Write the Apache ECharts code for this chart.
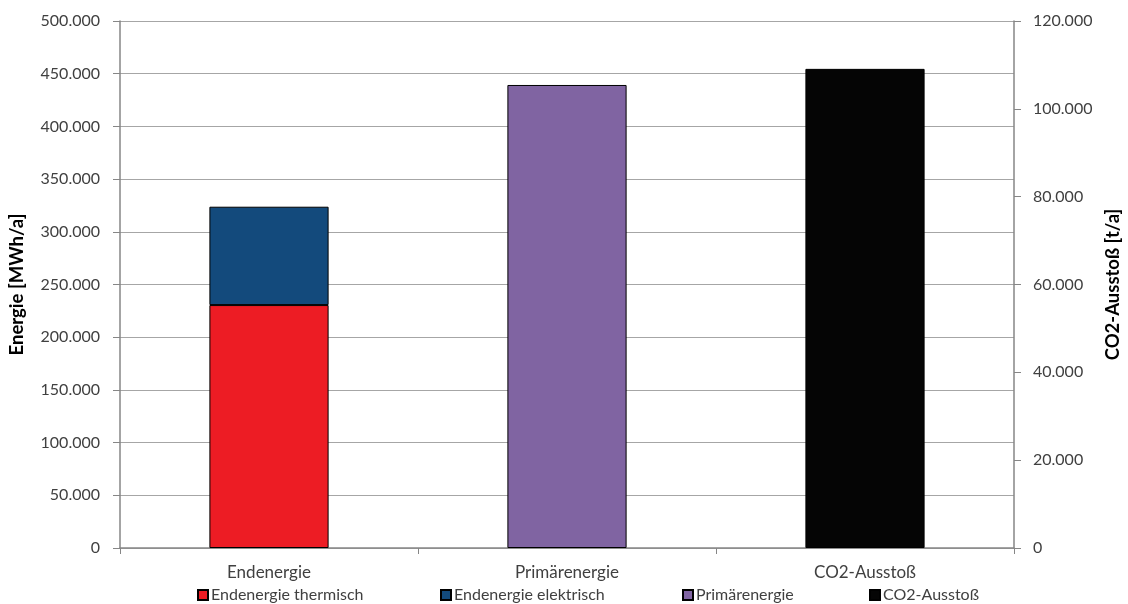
<!DOCTYPE html>
<html>
<head>
<meta charset="utf-8">
<script src="https://cdn.jsdelivr.net/npm/echarts@6/dist/echarts.min.js"></script>
<style>
  html, body { margin: 0; padding: 0; background: #fff; }
  #chart { width: 1128px; height: 604px; }
</style>
</head>
<body>
<div id="chart"></div>
<script>
// Kategorien der Rubrikenachse
const categories = ['Endenergie', 'Primärenergie', 'CO2-Ausstoß'];

// Energie in MWh/a (linke Achse)
const endenergieThermisch = [230500, null, null];
const endenergieElektrisch = [93300, null, null];
const primaerenergie = [null, 439300, null];

// CO2-Ausstoß in t/a (rechte Achse)
const co2Ausstoss = [null, null, 109100];

// Achsenbereiche
const energieTicks = { min: 0, max: 500000, interval: 50000 };
const co2Ticks = { min: 0, max: 120000, interval: 20000 };

const FONT = 'Lato, "Open Sans", sans-serif';
const TEXT = '#404040';
const AXIS = '#868686';

function fmt(v) {
  return String(v).replace(/\B(?=(\d{3})+(?!\d))/g, '.');
}

const border = { borderColor: '#000', borderWidth: 1 };

function legendAt(left, name) {
  return {
    left: left, top: 587, padding: 0,
    itemWidth: 10, itemHeight: 10, itemGap: 0,
    icon: 'rect',
    selectedMode: false,
    textStyle: { fontFamily: FONT, fontSize: 16, color: TEXT, padding: [0, 0, 0, -2] },
    data: [name]
  };
}

const chart = echarts.init(document.getElementById('chart'), null, { renderer: 'canvas' });
chart.setOption({
  animation: false,
  backgroundColor: '#fff',
  grid: { left: 120, right: 114, top: 21, bottom: 56, containLabel: false, outerBoundsMode: 'none' },
  legend: [
    legendAt(197, 'Endenergie thermisch'),
    legendAt(440, 'Endenergie elektrisch'),
    legendAt(682, 'Primärenergie'),
    legendAt(869, 'CO2-Ausstoß')
  ],
  xAxis: {
    type: 'category',
    data: categories,
    boundaryGap: true,
    axisLine: { lineStyle: { color: AXIS, width: 1.5 } },
    axisTick: { show: true, interval: 0, length: 6, lineStyle: { color: AXIS } },
    axisLabel: { interval: 0, margin: 16, fontFamily: FONT, fontSize: 17, color: TEXT }
  },
  yAxis: [
    {
      type: 'value',
      min: energieTicks.min, max: energieTicks.max, interval: energieTicks.interval,
      name: 'Energie [MWh/a]',
      nameLocation: 'middle',
      nameGap: 93,
      nameTextStyle: { fontFamily: FONT, fontSize: 18.5, fontWeight: 'bold', color: '#000' },
      axisLine: { show: true, lineStyle: { color: AXIS, width: 1.5 } },
      axisTick: { show: true, length: 7, lineStyle: { color: AXIS } },
      axisLabel: { margin: 20, fontFamily: FONT, fontSize: 16, color: TEXT, formatter: fmt },
      splitLine: { show: true, lineStyle: { color: '#a6a6a6', width: 1 } }
    },
    {
      type: 'value',
      position: 'right',
      min: co2Ticks.min, max: co2Ticks.max, interval: co2Ticks.interval,
      name: 'CO2-Ausstoß [t/a]',
      nameLocation: 'middle',
      nameGap: 86,
      nameTextStyle: { fontFamily: FONT, fontSize: 18.5, fontWeight: 'bold', color: '#000' },
      axisLine: { show: true, lineStyle: { color: AXIS, width: 1.5 } },
      axisTick: { show: true, length: 7, lineStyle: { color: AXIS } },
      axisLabel: { margin: 19, fontFamily: FONT, fontSize: 16, color: TEXT, formatter: fmt },
      splitLine: { show: false }
    }
  ],
  series: [
    {
      name: 'Endenergie thermisch', type: 'bar', stack: 'ende',
      barWidth: '40%', barGap: '-100%',
      itemStyle: Object.assign({ color: '#ED1C24' }, border),
      data: endenergieThermisch
    },
    {
      name: 'Endenergie elektrisch', type: 'bar', stack: 'ende',
      barWidth: '40%', barGap: '-100%',
      itemStyle: Object.assign({ color: '#134A7C' }, border),
      data: endenergieElektrisch
    },
    {
      name: 'Primärenergie', type: 'bar',
      barWidth: '40%', barGap: '-100%',
      itemStyle: Object.assign({ color: '#8064A2' }, border),
      data: primaerenergie
    },
    {
      name: 'CO2-Ausstoß', type: 'bar', yAxisIndex: 1,
      barWidth: '40%', barGap: '-100%',
      itemStyle: Object.assign({ color: '#050505' }, border),
      data: co2Ausstoss
    }
  ]
});
</script>
</body>
</html>
